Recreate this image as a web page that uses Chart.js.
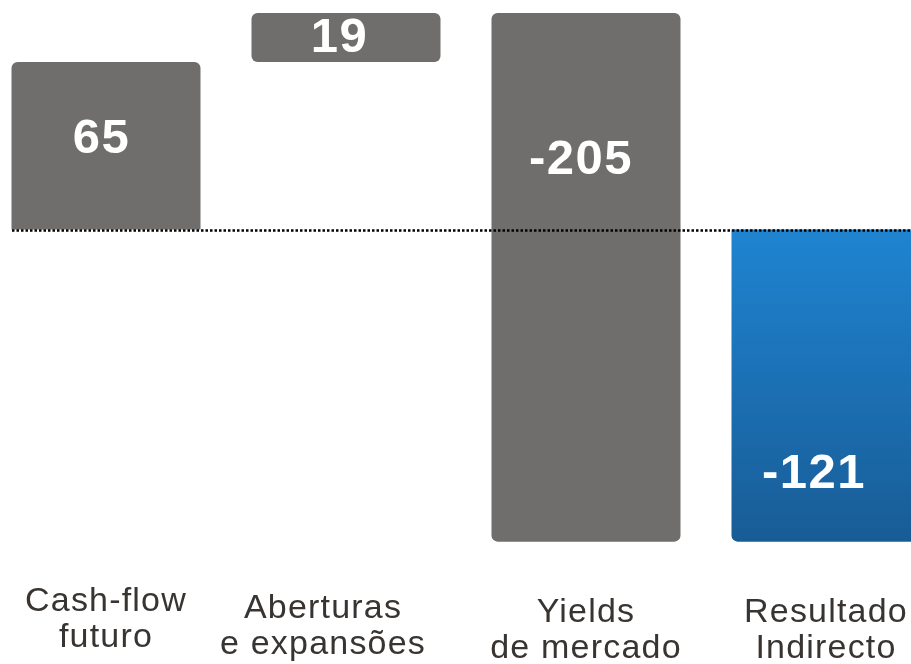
<!DOCTYPE html>
<html><head><meta charset="utf-8">
<script src="https://cdn.jsdelivr.net/npm/chart.js@4/dist/chart.umd.min.js"></script>
<style>
html,body{margin:0;padding:0;overflow:hidden;background:#fff;width:911px;height:664px}
#wrap{position:absolute;left:-14px;top:0;width:960px;height:664px}
</style></head>
<body><div id="wrap"><canvas id="c"></canvas></div>
<script>
const categories = [["Cash-flow","futuro"],["Aberturas","e expansões"],["Yields","de mercado"],["Resultado","Indirecto"]];
const values = [65, 19, -205, -121];
const isTotal = [false, false, false, true];
const valueLabels = ["65", "19", "-205", "-121"];

// floating ranges for the waterfall, built from the values
let running = 0;
const ranges = values.map((v, i) => {
  if (isTotal[i]) return [0, v];
  const r = [running, running + v];
  running += v;
  return r;
});

const GRAY = '#706e6c';
const labelFrac = [0.46, 0.52, 0.28, 0.785];      // label position inside each bar (from top)
const labelDx = [-4.5, -6.5, -5, -12];
const tickShift = [[0, -11], [-23, -4], [0, 0], [0, 0]];
const R = 6;
const radii = [
  {topLeft:R, topRight:R, bottomLeft:0, bottomRight:0},
  {topLeft:R, topRight:R, bottomLeft:R, bottomRight:R},
  {topLeft:R, topRight:R, bottomLeft:R, bottomRight:R},
  {topLeft:0, topRight:0, bottomLeft:R, bottomRight:R}
];

function barColor(ctx) {
  if (!isTotal[ctx.dataIndex]) return GRAY;
  const chart = ctx.chart;
  const ys = chart.scales && chart.scales.y;
  if (!chart.chartArea || !ys) return '#1b70b4';
  const r = ranges[ctx.dataIndex];
  const y0 = ys.getPixelForValue(Math.max(r[0], r[1]));
  const y1 = ys.getPixelForValue(Math.min(r[0], r[1]));
  const g = chart.ctx.createLinearGradient(0, y0, 0, y1);
  g.addColorStop(0, '#1f84d1');
  g.addColorStop(1, '#185c96');
  return g;
}

const wfPlugin = {
  id: 'wf',
  beforeDraw(chart) {
    const items = chart.scales.x.getLabelItems();
    items.forEach((it, i) => {
      if (it._shifted) return;
      it.options.translation[0] += tickShift[i][0];
      it.options.translation[1] += tickShift[i][1];
      it._shifted = true;
    });
    chart.ctx.letterSpacing = '1.2px';
  },
  afterDatasetsDraw(chart) {
    const ctx = chart.ctx;
    ctx.save();
    ctx.letterSpacing = '0px';
    const meta = chart.getDatasetMeta(0);
    const y0 = Math.round(chart.scales.y.getPixelForValue(0));
    const first = meta.data[0];
    ctx.beginPath();
    ctx.setLineDash([2.5, 2]);
    ctx.lineWidth = 2.5;
    ctx.strokeStyle = '#000';
    ctx.moveTo(Math.round(first.x - first.width / 2), y0 + 0.5);
    ctx.lineTo(chart.width, y0 + 0.5);
    ctx.stroke();
    ctx.setLineDash([]);
    ctx.fillStyle = '#ffffff';
    ctx.letterSpacing = '1.5px';
    ctx.font = 'bold 49px "Liberation Sans", Arial, sans-serif';
    ctx.textAlign = 'center';
    ctx.textBaseline = 'middle';
    meta.data.forEach((bar, i) => {
      const top = Math.min(bar.y, bar.base), bot = Math.max(bar.y, bar.base);
      ctx.fillText(valueLabels[i], bar.x + labelDx[i], top + (bot - top) * labelFrac[i]);
    });
    ctx.restore();
  }
};

new Chart(document.getElementById('c'), {
  type: 'bar',
  data: {
    labels: categories,
    datasets: [{
      data: ranges,
      backgroundColor: barColor,
      borderWidth: 0,
      borderSkipped: false,
      borderRadius: (ctx) => radii[ctx.dataIndex],
      barPercentage: 0.7875,
      categoryPercentage: 1
    }]
  },
  options: {
    responsive: true,
    maintainAspectRatio: false,
    animation: false,
    events: [],
    layout: { padding: 0 },
    plugins: { legend: { display: false }, tooltip: { enabled: false } },
    scales: {
      x: {
        grid: { display: false, drawTicks: false },
        border: { display: false },
        afterFit(scale) { scale.height = 94; },
        ticks: {
          color: '#383431',
          padding: 25,
          maxRotation: 0,
          autoSkip: false,
          font: { family: '"Liberation Sans", Arial, sans-serif', size: 34, lineHeight: 1.06 }
        }
      },
      y: {
        display: false,
        min: -132,
        max: 89
      }
    }
  },
  plugins: [wfPlugin]
});
</script>
</body></html>
